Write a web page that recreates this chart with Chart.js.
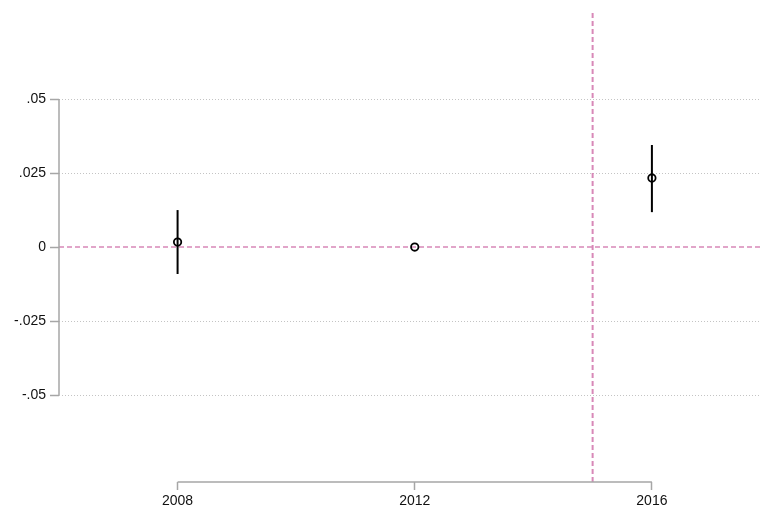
<!DOCTYPE html>
<html>
<head>
<meta charset="utf-8">
<script src="https://cdn.jsdelivr.net/npm/chart.js@4/dist/chart.umd.min.js"></script>
<style>
  html, body { margin: 0; padding: 0; background: #fff; }
  #wrap { width: 761px; height: 506px; }
</style>
</head>
<body>
<div id="wrap"><canvas id="coefChart" width="761" height="506"></canvas></div>
<script>
// 연도별 계수와 신뢰구간
const years = [2008, 2012, 2016];
const coef = [0.0017, 0, 0.0233];
const ciLow = [-0.0091, 0, 0.0118];
const ciHigh = [0.0125, 0, 0.0345];

// 축 눈금
const xTicks = [2008, 2012, 2016];
const yTicks = [-0.05, -0.025, 0, 0.025, 0.05];
const yTickLabels = ['-.05', '-.025', '0', '.025', '.05'];

// 기준선 (y = 0, x = 2015)
const refY = 0;
const refX = 2015;

const xMin = 2006, xMax = 2017.84;
const yMin = -0.0794, yMax = 0.0791;

const axisGray = '#a6a6a6';
const refColor = 'rgb(216, 136, 184)';
const fontSpec = { family: '"Liberation Sans", Arial, sans-serif', size: 14 };

// 축선은 첫 눈금부터 마지막 눈금까지만 그림
const partialAxes = {
  id: 'partialAxes',
  afterDraw(chart) {
    const { ctx, chartArea, scales } = chart;
    ctx.save();
    ctx.strokeStyle = axisGray;
    ctx.lineWidth = 1.5;
    ctx.beginPath();
    ctx.moveTo(chartArea.left, scales.y.getPixelForValue(yTicks[0]));
    ctx.lineTo(chartArea.left, scales.y.getPixelForValue(yTicks[yTicks.length - 1]));
    ctx.moveTo(scales.x.getPixelForValue(xTicks[0]), chartArea.bottom);
    ctx.lineTo(scales.x.getPixelForValue(xTicks[xTicks.length - 1]), chartArea.bottom);
    ctx.stroke();
    ctx.restore();
  }
};

const pointData = years.map((yr, i) => ({ x: yr, y: coef[i] }));

// 신뢰구간 세로선: 연도마다 데이터셋 하나
const ciSets = years.map((yr, i) => ({
  type: 'line',
  data: [{ x: yr, y: ciLow[i] }, { x: yr, y: ciHigh[i] }],
  borderColor: '#000',
  borderWidth: 2,
  pointRadius: 0,
  order: 2
}));

new Chart(document.getElementById('coefChart'), {
  type: 'scatter',
  data: {
    datasets: [
      {
        data: pointData,
        pointRadius: 3.7,
        pointBorderWidth: 1.8,
        pointBackgroundColor: 'rgba(0,0,0,0)',
        pointBorderColor: '#000',
        order: 1
      },
      ...ciSets,
      {
        type: 'line',
        data: [{ x: xMin, y: refY }, { x: xMax, y: refY }],
        borderColor: refColor,
        borderWidth: 1.5,
        borderDash: [5, 3],
        pointRadius: 0,
        order: 3
      },
      {
        type: 'line',
        data: [{ x: refX, y: yMin }, { x: refX, y: yMax }],
        borderColor: refColor,
        borderWidth: 2,
        borderDash: [5, 3],
        pointRadius: 0,
        order: 3
      }
    ]
  },
  options: {
    responsive: false,
    animation: false,
    layout: { autoPadding: false, padding: { top: 13, right: 0, left: 0, bottom: 0 } },
    plugins: { legend: { display: false }, tooltip: { enabled: false } },
    scales: {
      x: {
        type: 'linear',
        min: xMin,
        max: xMax,
        afterBuildTicks: (scale) => { scale.ticks = xTicks.map(v => ({ value: v })); },
        afterFit: (scale) => { scale.height = 24; },
        border: { display: false },
        grid: {
          drawOnChartArea: false,
          drawTicks: true,
          tickLength: 8,
          tickColor: axisGray,
          tickWidth: 1.5
        },
        ticks: {
          padding: 3,
          color: '#111',
          font: fontSpec,
          maxRotation: 0,
          callback: (v) => String(v)
        }
      },
      y: {
        min: yMin,
        max: yMax,
        afterBuildTicks: (scale) => { scale.ticks = yTicks.map(v => ({ value: v })); },
        afterFit: (scale) => { scale.width = 59; },
        // 점선 격자
        border: { display: false, dash: [1, 2] },
        grid: {
          color: (c) => (c.tick && c.tick.value === 0 ? 'rgba(0,0,0,0)' : '#c4c4c4'),
          lineWidth: 1,
          drawTicks: true,
          tickLength: 9,
          tickColor: axisGray,
          tickWidth: 1.5,
          tickBorderDash: []
        },
        ticks: {
          padding: 4,
          color: '#111',
          font: fontSpec,
          callback: (v) => {
            const i = yTicks.indexOf(v);
            return i >= 0 ? yTickLabels[i] : '';
          }
        }
      }
    }
  },
  plugins: [partialAxes]
});
</script>
</body>
</html>
